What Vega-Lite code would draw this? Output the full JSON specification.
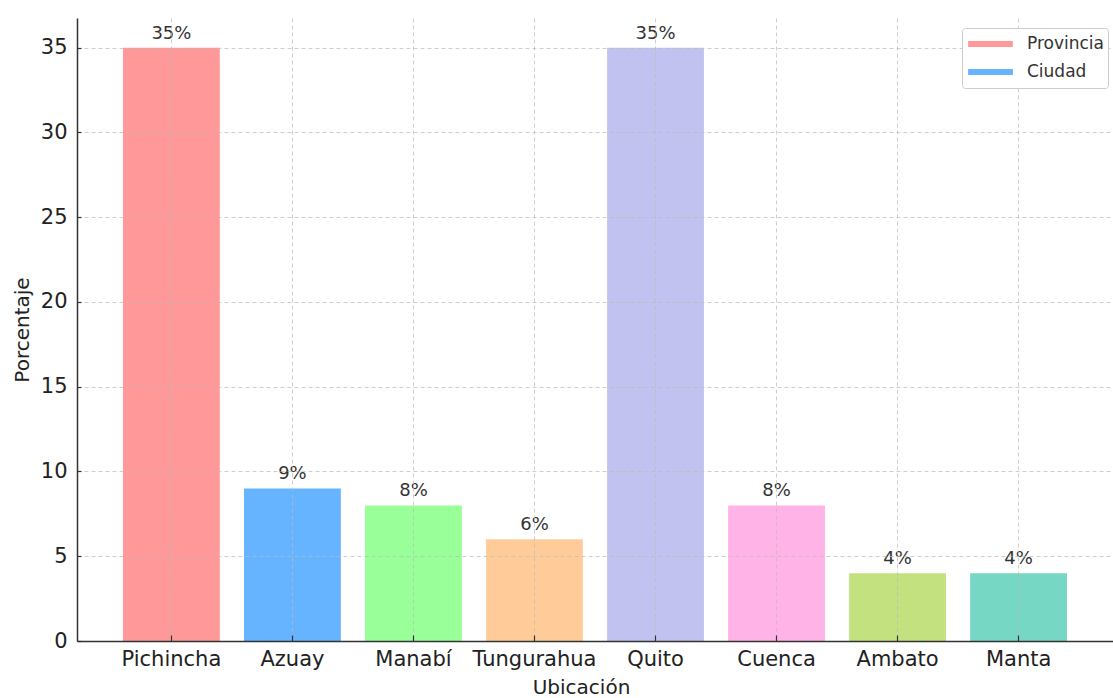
{
  "$schema": "https://vega.github.io/schema/vega-lite/v6.json",
  "width": 1036,
  "height": 623,
  "autosize": {"type": "none"},
  "padding": {"left": 77, "top": 18, "right": 0, "bottom": 57},
  "background": "white",
  "config": {
    "font": "DejaVu Sans",
    "view": {"stroke": null},
    "axis": {
      "domainColor": "#333333",
      "domainWidth": 1.5,
      "tickColor": "#333333",
      "tickWidth": 1.2,
      "labelColor": "#222222",
      "labelFont": "DejaVu Sans",
      "titleFont": "DejaVu Sans",
      "titleColor": "#222222",
      "titleFontWeight": "normal",
      "gridColor": "#bbbbbb",
      "gridDash": [4, 3],
      "gridWidth": 1,
      "gridOpacity": 0.7
    }
  },
  "datasets": {
    "ubicaciones": [
      {"Ubicación": "Pichincha", "Porcentaje": 35, "etiqueta": "35%"},
      {"Ubicación": "Azuay", "Porcentaje": 9, "etiqueta": "9%"},
      {"Ubicación": "Manabí", "Porcentaje": 8, "etiqueta": "8%"},
      {"Ubicación": "Tungurahua", "Porcentaje": 6, "etiqueta": "6%"},
      {"Ubicación": "Quito", "Porcentaje": 35, "etiqueta": "35%"},
      {"Ubicación": "Cuenca", "Porcentaje": 8, "etiqueta": "8%"},
      {"Ubicación": "Ambato", "Porcentaje": 4, "etiqueta": "4%"},
      {"Ubicación": "Manta", "Porcentaje": 4, "etiqueta": "4%"}
    ],
    "leyenda": [
      {"grupo": "Provincia"},
      {"grupo": "Ciudad"}
    ]
  },
  "layer": [
    {
      "data": {"name": "ubicaciones"},
      "mark": {"type": "bar"},
      "encoding": {
        "x": {
          "field": "Ubicación",
          "type": "nominal",
          "sort": null,
          "scale": {"paddingInner": 0.2, "paddingOuter": 0.38},
          "axis": {
            "title": "Ubicación",
            "titleFontSize": 20,
            "titlePadding": 8,
            "titleX": 504,
            "titleAlign": "center",
            "labelFontSize": 21,
            "labelAngle": 0,
            "labelPadding": 13,
            "tickSize": -6,
            "grid": true,
            "bandPosition": 0.5,
            "zindex": 1
          }
        },
        "y": {
          "field": "Porcentaje",
          "type": "quantitative",
          "scale": {"domain": [0, 36.75], "nice": false},
          "axis": {
            "title": "Porcentaje",
            "titleFontSize": 20,
            "titlePadding": 8,
            "labelFontSize": 21,
            "labelPadding": 14,
            "tickSize": -4,
            "values": [0, 5, 10, 15, 20, 25, 30, 35],
            "grid": true,
            "zindex": 1
          }
        },
        "color": {
          "field": "Ubicación",
          "type": "nominal",
          "scale": {
            "domain": ["Pichincha", "Azuay", "Manabí", "Tungurahua", "Quito", "Cuenca", "Ambato", "Manta"],
            "range": ["#ff9999", "#66b3ff", "#99ff99", "#ffcc99", "#c2c2f0", "#ffb3e6", "#c4e17f", "#76d7c4"]
          },
          "legend": null
        }
      }
    },
    {
      "data": {"name": "ubicaciones"},
      "mark": {"type": "text", "fontSize": 18, "color": "#333333", "dy": -9, "baseline": "alphabetic"},
      "encoding": {
        "x": {"field": "Ubicación", "type": "nominal", "sort": null},
        "y": {"field": "Porcentaje", "type": "quantitative"},
        "text": {"field": "etiqueta", "type": "nominal"}
      }
    },
    {
      "data": {"name": "leyenda"},
      "mark": {"type": "rule", "opacity": 0},
      "encoding": {
        "y": {"datum": 0},
        "color": {
          "field": "grupo",
          "type": "nominal",
          "scale": {"domain": ["Provincia", "Ciudad"], "range": ["#ff9999", "#66b3ff"]},
          "legend": {
            "title": null,
            "orient": "none",
            "legendX": 885,
            "legendY": 10,
            "symbolType": "stroke",
            "symbolStrokeWidth": 6,
            "symbolSize": 2000,
            "symbolOpacity": 1,
            "clipHeight": 26,
            "labelFontSize": 17,
            "labelColor": "#333333",
            "labelOffset": 11,
            "rowPadding": 2,
            "padding": 3,
            "fillColor": "white",
            "strokeColor": "#cccccc",
            "cornerRadius": 3,
            "zindex": 2
          }
        }
      }
    }
  ],
  "resolve": {"scale": {"color": "independent"}}
}
